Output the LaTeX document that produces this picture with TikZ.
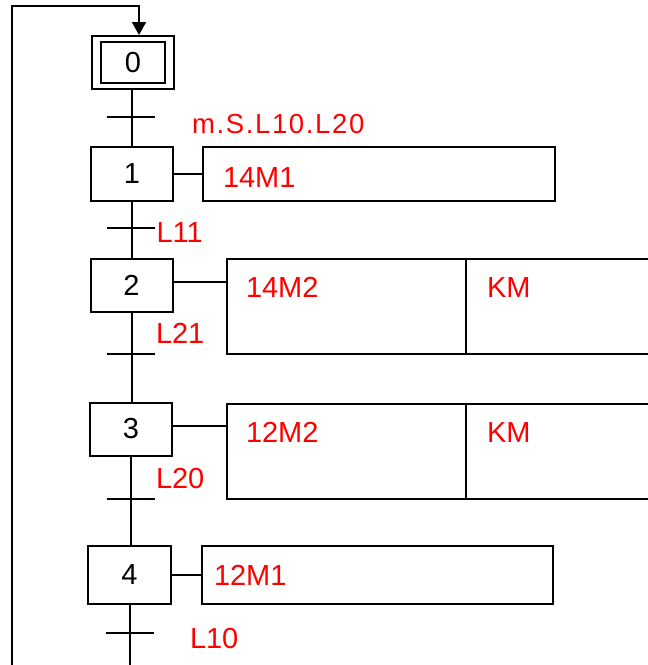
\documentclass[tikz,border=0pt]{standalone}
\usepackage{fontspec}
\setmainfont{Liberation Sans}
\usetikzlibrary{arrows.meta}
\definecolor{actred}{RGB}{255,0,0}
\begin{document}
\begin{tikzpicture}[x=1pt,y=-1pt,line width=2pt,
  every node/.style={font=\fontsize{29}{34}\selectfont},
  stepbox/.style={draw,minimum width=82pt,minimum height=53pt,inner sep=0pt},
  actbox/.style={draw,inner sep=0pt},
  lbl/.style={text=actred,anchor=base west,inner sep=0pt},
  bar/.style={line width=2pt},
  loop/.style={-{Triangle[width=14pt,length=13pt]}},
]
\clip (0,0) rectangle (648,665);

% initial step (double frame)
\node[stepbox,minimum width=82pt,minimum height=53pt] (s0) at (133,62.5) {};
\node[draw,minimum width=64pt,minimum height=41pt,inner sep=0pt] (s0in) at (s0) {0};

% steps
\node[stepbox,minimum height=54pt] (s1) at (132,174) {1};
\node[stepbox] (s2) at (131.5,285.5) {2};
\node[stepbox] (s3) at (131,429) {3};
\node[stepbox,minimum width=83pt,minimum height=58pt] (s4) at (129.5,575) {4};

% action boxes
\node[actbox,minimum width=352pt,minimum height=54pt] (a1) at (379,174) {};
\node[actbox,minimum width=239pt,minimum height=95pt] (a2a) at (346.5,306.5) {};
\node[actbox,minimum width=234pt,minimum height=95pt] (a2b) at (583,306.5) {};
\node[actbox,minimum width=239pt,minimum height=95pt] (a3a) at (346.5,451) {};
\node[actbox,minimum width=234pt,minimum height=95pt] (a3b) at (583,451) {};
\node[actbox,minimum width=351pt,minimum height=58pt] (a4) at (377.5,575) {};

% action texts
\node[lbl] (x1) at (222,187) {14M1};
\node[lbl] (x2a) at (245,297) {14M2};
\node[lbl] (x2b) at (486,297) {KM};
\node[lbl] (x3a) at (245,442) {12M2};
\node[lbl] (x3b) at (486,442) {KM};
\node[lbl] (x4) at (213,585) {12M1};

% links from steps to actions
\draw (s1.east) -- (a1.west);
\draw ([yshift=3.5pt]s2.east) -- ([yshift=3.5pt]s2.east -| a2a.west);
\draw ([yshift=3pt]s3.east) -- ([yshift=3pt]s3.east -| a3a.west);
\draw (s4.east) -- (a4.west);

% transitions
\coordinate (t0) at (131,117);
\coordinate (t1) at (131,228);
\coordinate (t2) at (131,354);
\coordinate (t3) at (131,499);
\coordinate (t4) at (129.5,633);
\foreach \t in {t0,t1,t2,t3,t4}
  \draw[bar] ([xshift=-24pt]\t) -- ([xshift=24pt]\t);

% receptivities
\node[lbl,font=\fontsize{27.5}{32}\selectfont\addfontfeatures{LetterSpace=6}] (r0) at (191,133) {m.S.L10.L20};
\node[lbl] (r1) at (155.5,242) {L11};
\node[lbl] (r2) at (155,343) {L21};
\node[lbl] (r3) at (155,488) {L20};
\node[lbl] (r4) at (189,648) {L10};

% sequence links
\draw (s1.north |- s0.south) -- (s1.north);
\draw (s1.south) -- (s1.south |- s2.north);
\draw (s2.south) -- (s2.south |- s3.north);
\draw (s3.south) -- (s3.south |- s4.north);
\coordinate (endb) at (129.5,672);
\draw (s4.south) -- (endb);

% return loop to the initial step
\coordinate (loopb) at (12,672);
\coordinate (loopt) at (12,6);
\draw[loop] (loopb) -- (loopt) -| ([xshift=6pt]s0.north);
\end{tikzpicture}
\end{document}
